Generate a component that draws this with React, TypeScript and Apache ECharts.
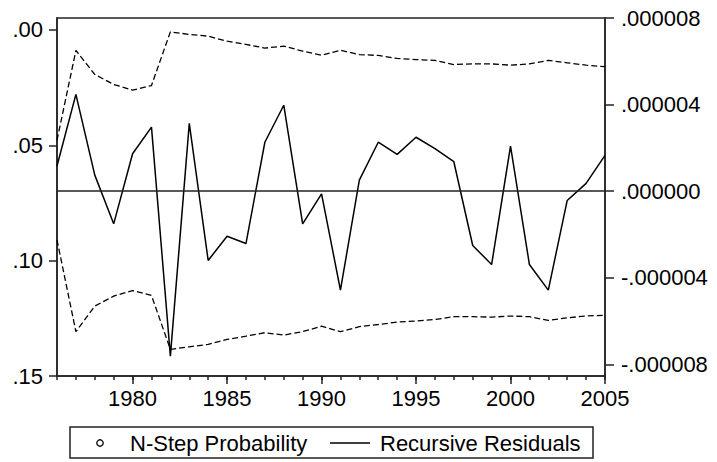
import React, { useEffect, useRef } from "react";
import * as echarts from "echarts";

const years: string[] = [
  "1976", "1977", "1978", "1979", "1980", "1981", "1982", "1983", "1984", "1985",
  "1986", "1987", "1988", "1989", "1990", "1991", "1992", "1993", "1994", "1995",
  "1996", "1997", "1998", "1999", "2000", "2001", "2002", "2003", "2004", "2005",
];

// Recursive residuals (units of 1e-6)
const recursiveResiduals: number[] = [
  1.16, 4.47, 0.74, -1.51, 1.73, 2.96, -7.62, 3.13, -3.2, -2.08,
  -2.42, 2.26, 3.97, -1.51, -0.13, -4.57, 0.51, 2.26, 1.7, 2.49,
  1.96, 1.36, -2.51, -3.39, 2.08, -3.39, -4.57, -0.43, 0.36, 1.65,
];

// +2 S.E. band (units of 1e-6)
const upperBand: number[] = [
  2.35, 6.5, 5.39, 4.93, 4.67, 4.88, 7.36, 7.24, 7.16, 6.93,
  6.78, 6.61, 6.7, 6.47, 6.28, 6.51, 6.31, 6.27, 6.13, 6.08,
  6.04, 5.85, 5.88, 5.88, 5.82, 5.88, 6.04, 5.93, 5.82, 5.75,
];

// -2 S.E. band (units of 1e-6)
const lowerBand: number[] = [
  -2.25, -6.49, -5.31, -4.85, -4.59, -4.82, -7.31, -7.19, -7.08, -6.85,
  -6.7, -6.54, -6.65, -6.49, -6.24, -6.49, -6.26, -6.16, -6.05, -6.0,
  -5.93, -5.8, -5.8, -5.82, -5.77, -5.8, -5.97, -5.85, -5.77, -5.73,
];

// N-step probabilities below .15 (none in this sample)
const nStepProbability: [string, number][] = [];

const leftTicks: number[] = [0, 0.05, 0.1, 0.15];
const rightTicks: number[] = [-8, -4, 0, 4, 8];
const majorYears: string[] = ["1980", "1985", "1990", "1995", "2000", "2005"];
const legendNames: string[] = ["N-Step Probability", "Recursive Residuals"];

const FONT = 'Arial, "Liberation Sans", sans-serif';

export default function App() {
  const ref = useRef<HTMLDivElement>(null);

  useEffect(() => {
    if (!ref.current) return;
    const chart = echarts.init(ref.current, null, { renderer: "svg" });
    const scale = (arr: number[]) => arr.map((v) => v * 1e-6);

    const axisLineStyle = { color: "#222", width: 1.5 };
    const labelStyle = { color: "#000", fontSize: 22, fontFamily: FONT };
    const legendY = 443;

    chart.setOption({
      animation: false,
      backgroundColor: "#fff",
      grid: {
        left: 57,
        right: 112,
        top: 18,
        bottom: 86,
        show: true,
        borderColor: "#222",
        borderWidth: 1.5,
        backgroundColor: "transparent",
      },
      xAxis: [
        {
          type: "category",
          data: years,
          boundaryGap: false,
          axisLine: { onZero: false, lineStyle: axisLineStyle },
          axisTick: { show: true, interval: 0, length: 4, lineStyle: axisLineStyle },
          axisLabel: {
            ...labelStyle,
            margin: 11,
            interval: (_i: number, v: string) => majorYears.indexOf(v) >= 0,
          },
          splitLine: { show: false },
        },
        {
          type: "category",
          data: years,
          boundaryGap: false,
          position: "bottom",
          axisLine: { show: false, onZero: false },
          axisTick: {
            show: true,
            length: 8,
            interval: (_i: number, v: string) => majorYears.indexOf(v) >= 0,
            lineStyle: axisLineStyle,
          },
          axisLabel: { show: false },
          splitLine: { show: false },
        },
      ],
      yAxis: [
        {
          type: "value",
          position: "left",
          inverse: true,
          min: -0.0052,
          max: 0.15,
          axisLine: { show: true, onZero: false, lineStyle: axisLineStyle },
          axisTick: { show: true, length: 8, customValues: leftTicks, lineStyle: axisLineStyle },
          axisLabel: {
            ...labelStyle,
            margin: 14,
            customValues: leftTicks,
            formatter: (v: number) => v.toFixed(2).replace(/^0/, ""),
          },
          splitLine: { show: false },
        },
        {
          type: "value",
          position: "right",
          min: -8.54e-6,
          max: 8e-6,
          axisLine: { show: true, onZero: false, lineStyle: axisLineStyle },
          axisTick: {
            show: true,
            length: 9,
            customValues: scale(rightTicks),
            lineStyle: axisLineStyle,
          },
          axisLabel: {
            ...labelStyle,
            margin: 16,
            customValues: scale(rightTicks),
            formatter: (v: number) => {
              const s = Math.abs(v).toFixed(6).replace(/^0/, "");
              return (v < -1e-12 ? "-" : "") + s;
            },
          },
          splitLine: { show: false },
        },
      ],
      graphic: [
        {
          type: "rect",
          shape: { x: 70, y: 427, width: 523, height: 31 },
          style: { fill: "none", stroke: "#222", lineWidth: 1.5 },
          silent: true,
        },
        {
          type: "circle",
          shape: { cx: 100, cy: legendY, r: 3.2 },
          style: { fill: "#fff", stroke: "#000", lineWidth: 1.3 },
          silent: true,
        },
        {
          type: "text",
          x: 130,
          y: legendY,
          style: {
            text: legendNames[0],
            fill: "#000",
            font: `22px ${FONT}`,
            verticalAlign: "middle",
            align: "left",
          },
          silent: true,
        },
        {
          type: "line",
          shape: { x1: 330, y1: legendY, x2: 370, y2: legendY },
          style: { stroke: "#000", lineWidth: 1.5 },
          silent: true,
        },
        {
          type: "text",
          x: 380,
          y: legendY,
          style: {
            text: legendNames[1],
            fill: "#000",
            font: `22px ${FONT}`,
            verticalAlign: "middle",
            align: "left",
          },
          silent: true,
        },
      ],
      series: [
        {
          name: legendNames[0],
          type: "scatter",
          xAxisIndex: 0,
          yAxisIndex: 0,
          data: nStepProbability,
          symbol: "emptyCircle",
          symbolSize: 7,
          itemStyle: { color: "#000", borderColor: "#000" },
        },
        {
          name: legendNames[1],
          type: "line",
          xAxisIndex: 0,
          yAxisIndex: 1,
          data: scale(recursiveResiduals),
          showSymbol: false,
          symbol: "none",
          lineStyle: { color: "#000", width: 1.5 },
          itemStyle: { color: "#000" },
          markLine: {
            silent: true,
            symbol: "none",
            label: { show: false },
            lineStyle: { color: "#222", width: 1.5, type: "solid" },
            data: [{ yAxis: 0 }],
          },
        },
        {
          name: "+2 S.E.",
          type: "line",
          xAxisIndex: 0,
          yAxisIndex: 1,
          data: scale(upperBand),
          showSymbol: false,
          symbol: "none",
          lineStyle: { color: "#000", width: 1.3, type: [6, 3] },
          itemStyle: { color: "#000" },
        },
        {
          name: "-2 S.E.",
          type: "line",
          xAxisIndex: 0,
          yAxisIndex: 1,
          data: scale(lowerBand),
          showSymbol: false,
          symbol: "none",
          lineStyle: { color: "#000", width: 1.3, type: [6, 3] },
          itemStyle: { color: "#000" },
        },
      ],
    });

    return () => chart.dispose();
  }, []);

  return (
    <div
      ref={ref}
      style={{ position: "fixed", left: 0, top: 0, width: 717, height: 462, background: "#fff" }}
    />
  );
}
